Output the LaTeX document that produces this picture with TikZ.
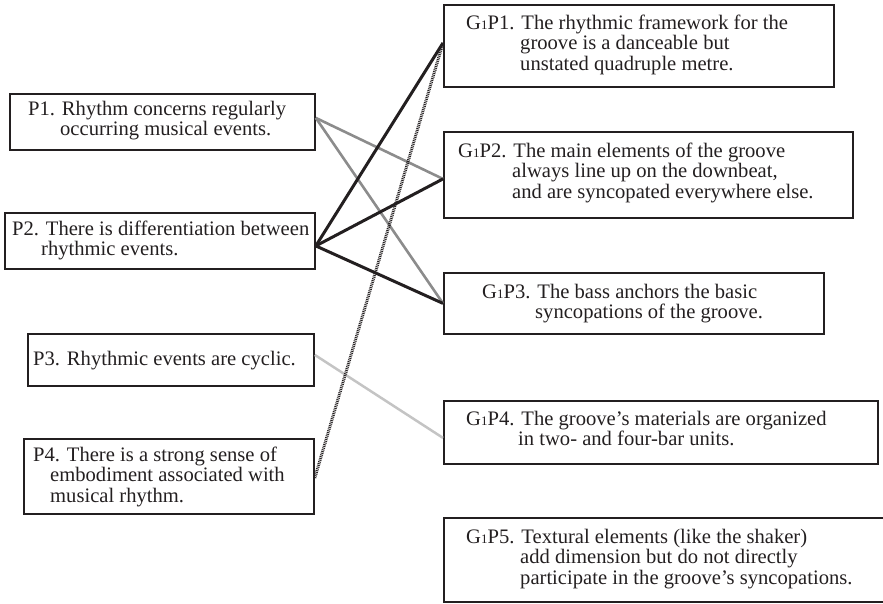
\documentclass[tikz,border=0pt]{standalone}
\usepackage{fontspec}
\setmainfont{Liberation Serif}
\definecolor{ink}{HTML}{231F20}
\definecolor{midgray}{HTML}{8C8C8C}
\definecolor{lightgray}{HTML}{C4C4C4}
\newcommand{\gone}{G{\fontsize{13}{13}\selectfont 1}}
\tikzset{
  box/.style={draw=ink, line width=1.8pt, rectangle, inner sep=0pt, anchor=north west},
  txt/.style={inner sep=0pt, anchor=base west, text=ink, font=\fontsize{20.6}{20.7}\selectfont},
  grayline/.style={draw=midgray, line width=2.6pt},
  blackline/.style={draw=ink, line width=3pt},
  lightline/.style={draw=lightgray, line width=2.5pt},
  dotline/.style={draw=ink, line width=3pt, dash pattern=on 0.9pt off 0.9pt},
}
\begin{document}
\begin{tikzpicture}[x=1pt,y=-1pt]
\path[use as bounding box, clip] (0,0) rectangle (883,603);
% left boxes
\node[box, minimum width=305pt, minimum height=56pt] (P1) at (9,93) {};
\node[box, minimum width=310pt, minimum height=56pt] (P2) at (4,212) {};
\node[box, minimum width=286pt, minimum height=52pt] (P3) at (27,333) {};
\node[box, minimum width=290pt, minimum height=75pt] (P4) at (23,438) {};
% right boxes
\node[box, minimum width=390pt, minimum height=82pt] (G1) at (443,4) {};
\node[box, minimum width=409pt, minimum height=86pt] (G2) at (443,131) {};
\node[box, minimum width=380pt, minimum height=61pt] (G3) at (443,272) {};
\node[box, minimum width=434pt, minimum height=63pt] (G4) at (443,400) {};
\node[box, minimum width=460pt, minimum height=84pt] (G5) at (443,517) {};
% texts
\node[txt] (tP1) at (28,115) {\begin{tabular}[t]{@{}l@{}}P1. Rhythm concerns regularly\\\hspace*{32pt}occurring musical events.\end{tabular}};
\node[txt] (tP2) at (12,235) {\begin{tabular}[t]{@{}l@{}}P2. There is differentiation between\\\hspace*{29pt}rhythmic events.\end{tabular}};
\node[txt] (tP3) at (33,365) {P3. Rhythmic events are cyclic.};
\node[txt] (tP4) at (33,461) {\begin{tabular}[t]{@{}l@{}}P4. There is a strong sense of\\\hspace*{17pt}embodiment associated with\\\hspace*{17pt}musical rhythm.\end{tabular}};
\node[txt] (tG1) at (466,29) {\begin{tabular}[t]{@{}l@{}}\gone P1.\hspace{7pt}The rhythmic framework for the\\\hspace*{54pt}groove is a danceable but\\\hspace*{54pt}unstated quadruple metre.\end{tabular}};
\node[txt] (tG2) at (458,157) {\begin{tabular}[t]{@{}l@{}}\gone P2.\hspace{7pt}The main elements of the groove\\\hspace*{54pt}always line up on the downbeat,\\\hspace*{54pt}and are syncopated everywhere else.\end{tabular}};
\node[txt] (tG3) at (482,298) {\begin{tabular}[t]{@{}l@{}}\gone P3.\hspace{7pt}The bass anchors the basic\\\hspace*{53pt}syncopations of the groove.\end{tabular}};
\node[txt] (tG4) at (466,425) {\begin{tabular}[t]{@{}l@{}}\gone P4.\hspace{7pt}The groove’s materials are organized\\\hspace*{52pt}in two- and four-bar units.\end{tabular}};
\node[txt] (tG5) at (466,543) {\begin{tabular}[t]{@{}l@{}}\gone P5.\hspace{7pt}Textural elements (like the shaker)\\\hspace*{54pt}add dimension but do not directly\\\hspace*{54pt}participate in the groove’s syncopations.\end{tabular}};
% connectors
\draw[grayline] ([yshift=4pt]P1.east) -- ([yshift=-4pt]G2.west);
\draw[grayline] ([yshift=4pt]P1.east) -- (G3.west);
\draw[blackline] ([yshift=-5pt]P2.east) -- ([yshift=3pt]G1.west);
\draw[blackline] ([yshift=-5pt]P2.east) -- ([yshift=-4pt]G2.west);
\draw[blackline] ([yshift=-5pt]P2.east) -- (G3.west);
\draw[lightline] ([yshift=5pt]P3.east) -- ([yshift=-5.5pt]G4.west);
\draw[dotline] ([yshift=-1.5pt]P4.east) -- ([yshift=3pt]G1.west);
\end{tikzpicture}
\end{document}
